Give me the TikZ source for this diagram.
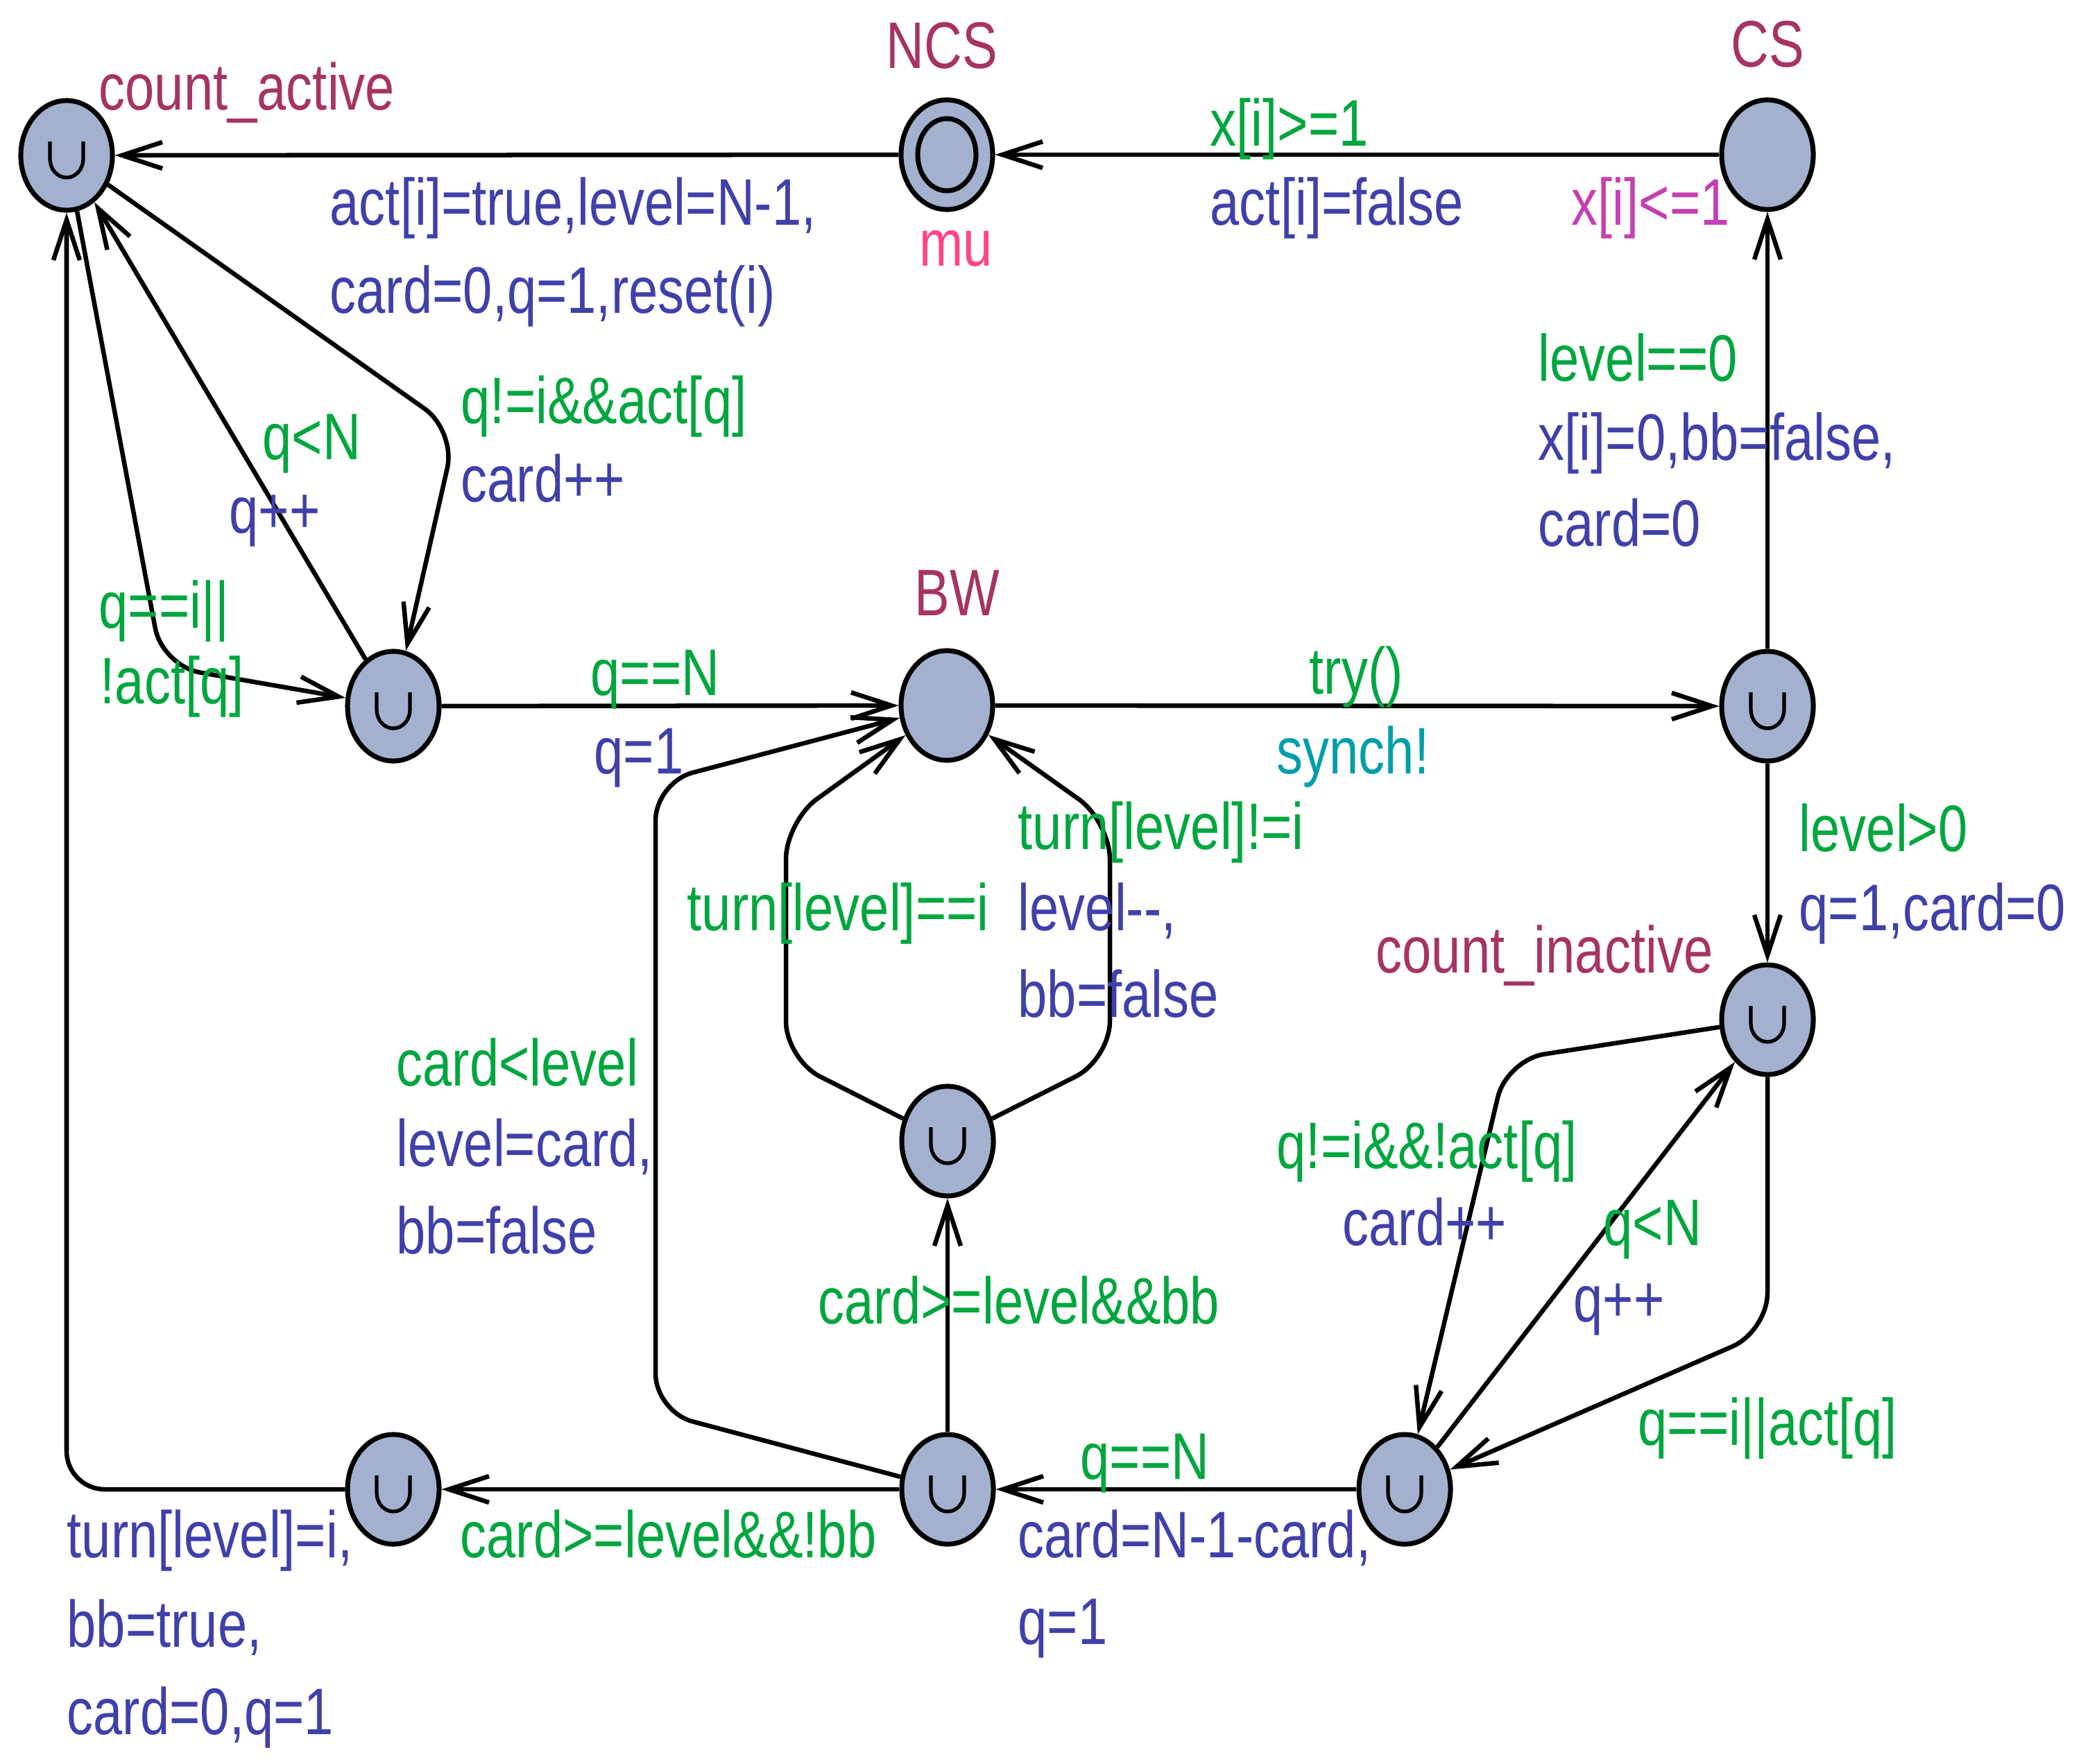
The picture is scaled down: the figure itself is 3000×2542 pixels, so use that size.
\documentclass[tikz,border=0pt]{standalone}
\usepackage{fontspec}
\setmainfont[FakeStretch=0.8]{Liberation Sans}
\usetikzlibrary{arrows.meta,shapes.geometric}
\definecolor{locfill}{RGB}{163,177,207}
\definecolor{namecol}{RGB}{166,52,98}
\definecolor{guardcol}{RGB}{0,166,62}
\definecolor{updcol}{RGB}{64,64,170}
\definecolor{synccol}{RGB}{0,158,170}
\definecolor{invcol}{RGB}{196,64,176}
\definecolor{ratecol}{RGB}{255,68,136}
\begin{document}
\begin{tikzpicture}[x=0.01cm,y=-0.01cm,
  every node/.style={font=\fontsize{27pt}{32pt}\selectfont},
  loc/.style={ellipse,draw,line width=2pt,fill=locfill,minimum width=1.32cm,minimum height=1.58cm,inner sep=0pt},
  committed/.style={loc,path picture={
     \draw[line width=1.5pt] ([xshift=-0.24cm,yshift=0.2cm]path picture bounding box.center)
       -- ++(0,-0.25cm) arc[start angle=180,end angle=360,x radius=0.24cm,y radius=0.27cm] -- ++(0,0.25cm);}},
  edge/.style={line width=1.85pt,rounded corners=0.55cm,-{Straight Barb[length=0.58cm,width=0.38cm,line width=1.85pt]}},
  lab/.style={anchor=base west,inner sep=0pt},
  nm/.style={lab,text=namecol},
  gd/.style={lab,text=guardcol},
  up/.style={lab,text=updcol},
  sy/.style={lab,text=synccol}]
\useasboundingbox (0,0) rectangle (3000,2542);

% locations
\node[committed] (CA) at (96,224) {};
\node[loc] (NCS) at (1365,223) {};
\draw[line width=2pt] (NCS.center) ellipse[x radius=0.42cm,y radius=0.52cm];
\node[loc] (CS) at (2548,223) {};
\node[committed] (A) at (567,1018) {};
\node[loc] (BW) at (1365,1017) {};
\node[committed] (T) at (2548,1018) {};
\node[committed] (CI) at (2548,1470) {};
\node[committed] (M) at (1366,1645) {};
\node[committed] (B) at (1366,2147) {};
\node[committed] (BL) at (567,2147) {};
\node[committed] (BR) at (2025,2147) {};

% waypoints
\coordinate (w1) at (657,621);
\coordinate (w2) at (234,960);
\coordinate (w3) at (2172,1528);
\coordinate (w4) at (2548,1919);
\coordinate (w5) at (96,2147);
\coordinate (w6) at (1133,1527);
\coordinate (w7) at (1133,1184);
\coordinate (w8) at (1600,1527);
\coordinate (w9) at (1600,1184);
\coordinate (w10) at (945,2035);
\coordinate (w11) at (945,1128);

% edges
\draw[edge] (NCS) -- (CA);
\draw[edge] (CS) -- (NCS);
\draw[edge] (CA) -- (w1) -- (A);
\draw[edge] (A) -- (CA);
\draw[edge] (CA) -- (w2) -- (A);
\draw[edge] (A) -- (BW);
\draw[edge] (BW) -- (T);
\draw[edge] (T) -- (CS);
\draw[edge] (T) -- (CI);
\draw[edge] (CI) -- (w3) -- (BR);
\draw[edge] (BR) -- (CI);
\draw[edge] (CI) -- (w4) -- (BR);
\draw[edge] (BR) -- (B);
\draw[edge] (B) -- (BL);
\draw[edge] (BL) -- (w5) -- (CA);
\draw[edge] (B) -- (M);
\draw[edge] (M) -- (w6) -- (w7) -- (BW);
\draw[edge] (M) -- (w8) -- (w9) -- (BW);
\draw[edge] (B) -- (w10) -- (w11) -- (BW);

% location names, invariant, rate
\node[nm] (n1) at (142,158) {count\_active};
\node[nm] (n2) at (1277,98) {NCS};
\node[nm] (n3) at (2495,97) {CS};
\node[nm] (n4) at (1318,887) {BW};
\node[nm] (n5) at (1983,1402) {count\_inactive};
\node[lab,text=ratecol] (n6) at (1325,383) {mu};
\node[lab,text=invcol] (n7) at (2265,324) {x[i]<=1};

% guards
\node[gd] (g1) at (1744,210) {x[i]>=1};
\node[gd] (g2) at (664,610) {q!=i\&\&act[q]};
\node[gd] (g3) at (378,662) {q<N};
\node[gd] (g4) at (142,905) {q==i||};
\node[gd] (g5) at (144,1014) {!act[q]};
\node[gd] (g6) at (851,1002) {q==N};
\node[gd] (g7) at (1887,1000) {try()};
\node[gd] (g8) at (2217,549) {level==0};
\node[gd] (g9) at (2593,1227) {level>0};
\node[gd] (g10) at (1467,1224) {turn[level]!=i};
\node[gd] (g11) at (990,1341) {turn[level]==i};
\node[gd] (g12) at (571,1565) {card<level};
\node[gd] (g13) at (1179,1908) {card>=level\&\&bb};
\node[gd] (g14) at (1840,1684) {q!=i\&\&!act[q]};
\node[gd] (g15) at (2311,1795) {q<N};
\node[gd] (g16) at (2361,2083) {q==i||act[q]};
\node[gd] (g17) at (1557,2132) {q==N};
\node[gd] (g18) at (663,2245) {card>=level\&\&!bb};

% sync
\node[sy] (s1) at (1840,1115) {synch!};

% updates
\node[up] (u1) at (475,324) {act[i]=true,level=N-1,};
\node[up] (u2) at (475,451) {card=0,q=1,reset(i)};
\node[up] (u3) at (664,723) {card++};
\node[up] (u4) at (330,768) {q++};
\node[up] (u5) at (856,1115) {q=1};
\node[up] (u6) at (1744,324) {act[i]=false};
\node[up] (u7) at (2217,663) {x[i]=0,bb=false,};
\node[up] (u8) at (2217,787) {card=0};
\node[up] (u9) at (2593,1341) {q=1,card=0};
\node[up] (u10) at (1467,1341) {level-{}-,};
\node[up] (u11) at (1467,1466) {bb=false};
\node[up] (u12) at (571,1681) {level=card,};
\node[up] (u13) at (571,1807) {bb=false};
\node[up] (u14) at (1935,1795) {card++};
\node[up] (u15) at (2268,1905) {q++};
\node[up] (u16) at (1467,2245) {card=N-1-card,};
\node[up] (u17) at (1467,2370) {q=1};
\node[up] (u18) at (96,2245) {turn[level]=i,};
\node[up] (u19) at (96,2374) {bb=true,};
\node[up] (u20) at (96,2500) {card=0,q=1};
\end{tikzpicture}
\end{document}
